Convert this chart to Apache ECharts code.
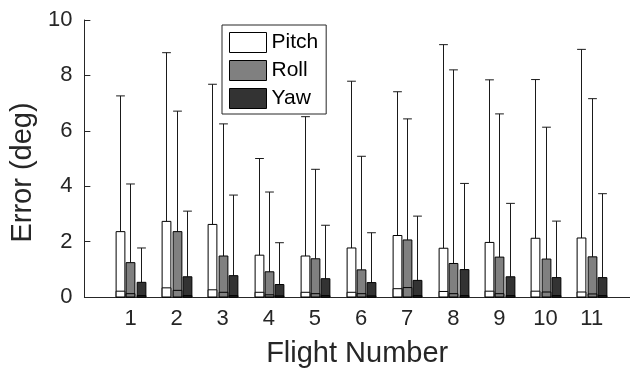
<!DOCTYPE html>
<html>
<head>
<meta charset="utf-8">
<script src="https://cdn.jsdelivr.net/npm/echarts@6/dist/echarts.min.js"></script>
<style>html,body{margin:0;padding:0;background:#fff}#c{width:630px;height:373px}</style>
</head>
<body>
<div id="c"></div>
<script>
const flights = [1, 2, 3, 4, 5, 6, 7, 8, 9, 10, 11];
const seriesNames = ['Pitch', 'Roll', 'Yaw'];
const pitchMean = [2.36, 2.73, 2.62, 1.51, 1.48, 1.77, 2.22, 1.76, 1.97, 2.12, 2.13];
const pitchLow  = [0.21, 0.33, 0.26, 0.17, 0.17, 0.17, 0.30, 0.20, 0.21, 0.21, 0.18];
const pitchMax  = [7.26, 8.82, 7.68, 5.00, 6.51, 7.79, 7.41, 9.11, 7.84, 7.85, 8.94];
const rollMean  = [1.24, 2.36, 1.48, 0.91, 1.38, 0.98, 2.06, 1.21, 1.44, 1.37, 1.45];
const rollLow   = [0.12, 0.24, 0.17, 0.08, 0.12, 0.12, 0.34, 0.12, 0.12, 0.18, 0.11];
const rollMax   = [4.08, 6.71, 6.25, 3.79, 4.61, 5.08, 6.43, 8.20, 6.61, 6.13, 7.16];
const yawMean   = [0.53, 0.73, 0.77, 0.45, 0.66, 0.52, 0.60, 0.99, 0.73, 0.70, 0.70];
const yawLow    = [0.05, 0.05, 0.05, 0.04, 0.05, 0.04, 0.05, 0.05, 0.05, 0.05, 0.05];
const yawMax    = [1.77, 3.10, 3.68, 1.96, 2.59, 2.32, 2.92, 4.10, 3.38, 2.74, 3.73];

const fills = ['#ffffff', '#808080', '#333333'];
const offsets = [-0.222, 0, 0.222];
const FONT = 'Liberation Sans, Arial, Helvetica, sans-serif';
const TXT = '#262626';

function build(mean, low, max) {
  return flights.map((f, i) => [f, mean[i], low[i], max[i]]);
}
const dataSets = [build(pitchMean, pitchLow, pitchMax), build(rollMean, rollLow, rollMax), build(yawMean, yawLow, yawMax)];

function makeRender(k) {
  return function (params, api) {
    const x = api.value(0) + offsets[k];
    const m = api.value(1), lo = api.value(2), hi = api.value(3);
    const p0 = api.coord([x, 0]);
    const pm = api.coord([x, m]);
    const pl = api.coord([x, lo]);
    const ph = api.coord([x, hi]);
    const w = api.size([0.19, 0])[0];
    const cw = api.size([0.19, 0])[0];
    const cx = Math.round(p0[0]) + 0.5;
    const lx = cx - w / 2;
    const ls = { stroke: '#1a1a1a', lineWidth: 1 };
    return {
      type: 'group',
      children: [
        { type: 'line', shape: { x1: cx, y1: pm[1], x2: cx, y2: ph[1] }, style: ls },
        { type: 'line', shape: { x1: cx - cw / 2, y1: ph[1], x2: cx + cw / 2, y2: ph[1] }, style: ls },
        { type: 'rect', shape: { x: lx, y: pm[1], width: w, height: p0[1] - pm[1] },
          style: { fill: fills[k], stroke: '#000', lineWidth: 1 } },
        { type: 'rect', shape: { x: lx, y: pl[1], width: w, height: p0[1] - pl[1] },
          style: { fill: fills[k], stroke: '#000', lineWidth: 1 } }
      ]
    };
  };
}

const chart = echarts.init(document.getElementById('c'), null, { renderer: 'canvas' });
chart.setOption({
  animation: false,
  backgroundColor: '#fff',
  textStyle: { fontFamily: FONT },
  grid: { left: 83, right: 0, top: 20, bottom: 71, containLabel: false },
  legend: {
    orient: 'vertical',
    left: 222,
    top: 25,
    padding: [7, 8, 5, 7],
    itemWidth: 37,
    itemHeight: 20,
    itemGap: 7,
    icon: 'rect',
    borderColor: '#262626',
    borderWidth: 1,
    backgroundColor: '#fff',
    textStyle: { fontSize: 21, color: '#000', fontFamily: FONT },
    data: seriesNames.map((n, k) => ({ name: n, itemStyle: { color: fills[k], borderColor: '#000', borderWidth: 1 } }))
  },
  xAxis: {
    type: 'value',
    min: 0,
    max: 11.83,
    interval: 1,
    name: 'Flight Number',
    nameLocation: 'middle',
    nameGap: 42,
    nameTextStyle: { fontSize: 29, color: TXT, fontFamily: FONT },
    axisLine: { show: true, lineStyle: { color: TXT, width: 1 } },
    axisTick: { show: false },
    splitLine: { show: false },
    axisLabel: {
      fontSize: 22, color: TXT, margin: 11, fontFamily: FONT, showMaxLabel: false,
      formatter: v => { const i = flights.indexOf(v); return i >= 0 ? String(flights[i]) : ''; }
    }
  },
  yAxis: {
    type: 'value',
    min: 0,
    max: 10,
    interval: 2,
    name: 'Error (deg)',
    nameLocation: 'middle',
    nameGap: 43,
    nameTextStyle: { fontSize: 29, color: TXT, fontFamily: FONT, padding: [0, 28, 0, 0] },
    axisLine: { show: true, lineStyle: { color: TXT, width: 1 } },
    axisTick: { show: true, inside: true, length: 6, lineStyle: { color: TXT } },
    splitLine: { show: false },
    axisLabel: { fontSize: 22, color: TXT, margin: 12, fontFamily: FONT }
  },
  series: seriesNames.map((n, k) => ({
    name: n,
    type: 'custom',
    renderItem: makeRender(k),
    itemStyle: { color: fills[k], borderColor: '#000', borderWidth: 1 },
    encode: { x: 0, y: [1, 2, 3] },
    data: dataSets[k],
    clip: false,
    z: 2
  }))
});
</script>
</body>
</html>
